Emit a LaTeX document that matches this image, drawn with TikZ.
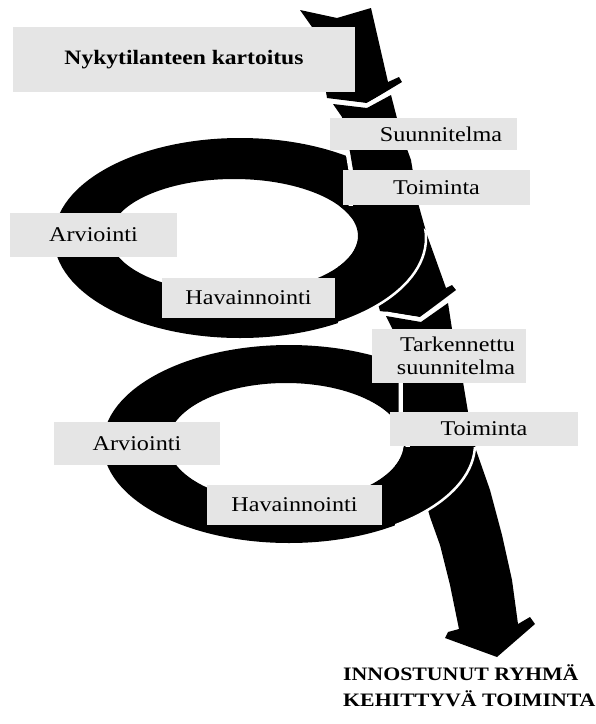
\documentclass[tikz,border=0pt]{standalone}
\usepackage{fontspec}
\setmainfont{Liberation Serif}[FakeStretch=1.15]
\definecolor{boxgray}{RGB}{229,229,229}

\begin{document}
\begin{tikzpicture}[x=1pt, y=-1pt,
    lbl/.style={fill=boxgray, inner sep=0pt, font=\fontsize{21}{23}\selectfont},
    band/.style={fill=black, preaction={draw=white, line width=9pt, line join=round}},
    ring/.style={fill=black, even odd rule}]
    % Parameters
    \def\Rx{186}   % outer x radius of a loop
    \def\Ry{100}   % outer y radius of a loop

    \useasboundingbox (0,0) rectangle (596,724);

    % Loops
    \fill[ring] (240,238) ellipse [x radius=\Rx pt, y radius=\Ry pt]
                (234,236) ellipse [x radius=124pt, y radius=57pt];
    \fill[ring] (289,444) ellipse [x radius=\Rx pt, y radius=99pt]
                (286,443) ellipse [x radius=118pt, y radius=60pt];

    % Arrow, top piece
    \fill[band] (300,10) -- (337,18) -- (371,8) -- (388,82) -- (399,77) -- (402,82)
        -- (367,103) -- (327,98) -- (326,92) -- (312,27) -- cycle;

    % Arrow, middle piece
    \fill[band] (333,104) -- (367,108) -- (391,95) -- (400,130) -- (411,160)
        -- (418,203) -- (427,235) -- (446,288) -- (452,285) -- (456,290)
        -- (420,317) -- (380,311) -- (378,304) -- (362,240) -- (353,205)
        -- (353,170) -- (350,152) -- (342,117) -- cycle;

    % First loop in front of the arrow
    \begin{scope}
        \clip (338,206) -- (400,206) -- (428,232) -- (600,232) -- (600,360) -- (338,360) -- cycle;
        \fill[ring] (240,238) ellipse [x radius=\Rx pt, y radius=\Ry pt]
                    (234,236) ellipse [x radius=124pt, y radius=57pt];
        \draw[white, line width=2.5pt] (240,238) ellipse [x radius=\Rx pt, y radius=\Ry pt];
    \end{scope}

    % Arrow, lower piece with head
    \fill[band] (386,316) -- (421,322) -- (448,303) -- (452,329) -- (463,382)
        -- (468,412) -- (476,450) -- (490,490) -- (502,535) -- (512,580)
        -- (518,624) -- (530,617) -- (535,624) -- (497,657) -- (445,638)
        -- (448,632) -- (459,629) -- (450,585) -- (440,545) -- (430,517)
        -- (410,446) -- (403,412) -- (403,382) -- (393,330) -- cycle;

    % Second loop in front of the arrow
    \begin{scope}
        \clip (395,447) -- (600,447) -- (600,600) -- (395,600) -- cycle;
        \fill[ring] (289,444) ellipse [x radius=\Rx pt, y radius=99pt]
                    (286,443) ellipse [x radius=118pt, y radius=60pt];
        \draw[white, line width=2.5pt] (289,444) ellipse [x radius=\Rx pt, y radius=99pt];
    \end{scope}

    % Labels
    \node[lbl, minimum width=342pt, minimum height=65pt, font=\fontsize{20.5}{23}\selectfont\bfseries]
        (kartoitus) at (184,59.5) {Nykytilanteen kartoitus};
    \node[lbl, minimum width=187pt, minimum height=32pt, text width=157pt, align=right]
        (suunnitelma) at (423.5,134) {Suunnitelma};
    \node[lbl, minimum width=187pt, minimum height=35pt] (toiminta1) at (436.5,187.5) {Toiminta};
    \node[lbl, minimum width=167pt, minimum height=44pt] (arviointi1) at (93.5,235) {Arviointi};
    \node[lbl, minimum width=173pt, minimum height=40pt] (havainnointi1) at (248.5,298) {Havainnointi};
    \node[lbl, minimum width=154pt, minimum height=54pt, text width=132pt, align=right]
        (tarkennettu) at (449,356) {Tarkennettu\\suunnitelma};
    \node[lbl, minimum width=166pt, minimum height=43pt] (arviointi2) at (137,443.5) {Arviointi};
    \node[lbl, minimum width=188pt, minimum height=34pt] (toiminta2) at (484,429) {Toiminta};
    \node[lbl, minimum width=175pt, minimum height=40pt] (havainnointi2) at (294.5,505) {Havainnointi};

    % Result
    \node[anchor=west, align=left, inner sep=0pt, font=\fontsize{19}{26}\selectfont\bfseries]
        (tulos) at (343,686) {INNOSTUNUT RYHMÄ\\KEHITTYVÄ TOIMINTA};
\end{tikzpicture}
\end{document}
